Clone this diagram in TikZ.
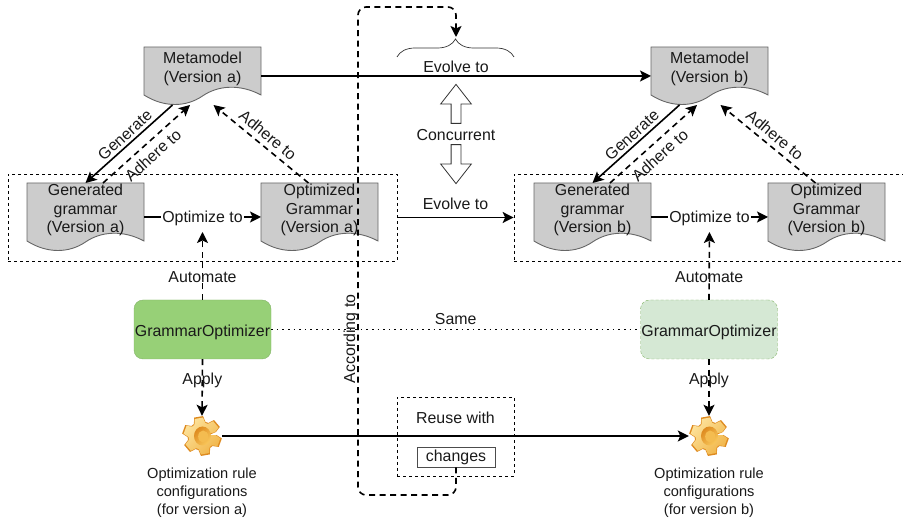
\documentclass[tikz,border=0pt]{standalone}
\usepackage{fontspec}
\setmainfont{Liberation Sans}
\usetikzlibrary{arrows.meta,backgrounds,decorations.pathreplacing,shapes.arrows}

\definecolor{docgray}{HTML}{CCCCCC}
\definecolor{docline}{HTML}{666666}
\definecolor{greenfill}{HTML}{97D077}
\definecolor{lightgreen}{HTML}{D5E8D4}
\definecolor{greenline}{HTML}{82B366}
\definecolor{gearside}{HTML}{DE8A1F}
\definecolor{gearface}{HTML}{F9C85C}
\definecolor{gearlight}{HTML}{FDE29A}

\tikzset{
  gearicon/.pic={
    \fill[gearside] (1.5,1.5) \foreach \a in {20,80,...,320}{
      -- (\a-24:14.5) -- (\a-13:20) -- (\a+13:20) -- (\a+24:14.5)} -- cycle;
    \shade[top color=gearlight,bottom color=gearface!70!gearside,shading angle=45] (-1,-1) \foreach \a in {20,80,...,320}{
      -- (\a-24:13.5) -- (\a-13:18.5) -- (\a+13:18.5) -- (\a+24:13.5)} -- cycle;
    \shade[top color=gearside,bottom color=gearface,shading angle=45] (0.5,0) ellipse (8.5 and 9.5);
    \fill[gearface!80!gearside] (1.2,0.5) ellipse (5 and 6);
  }
}

\begin{document}
\begin{tikzpicture}[
  x=1pt, y=-1pt,
  font=\fontsize{15.9}{18.5}\selectfont,
  every node/.style={text=black!90},
  doc/.style={align=center, text width=117pt, inner sep=0pt},
  docback/.style={draw=docline, fill=docgray, line width=0.9pt},
  groupbox/.style={draw, dash pattern=on 3pt off 3pt, line width=0.7pt, minimum width=389pt, minimum height=87pt},
  tool/.style={rounded corners=9pt, minimum width=137pt, minimum height=59pt, inner sep=0pt, text height=15pt, text depth=0pt},
  gearnode/.style={circle, minimum size=40pt, inner sep=0pt},
  flow/.style={line width=1.6pt, -{Stealth[length=11pt,width=11pt,inset=2.5pt]}},
  relation/.style={flow, dash pattern=on 6pt off 4.5pt},
  hollow/.style={draw=black!80, line width=0.8pt, single arrow, rotate=#1, minimum height=39pt,
    text height=9pt, text depth=0pt, text width=0pt, inner sep=0pt, single arrow head extend=10.5pt,
    single arrow tip angle=76},
  caption/.style={align=center, font=\fontsize{14.6}{18}\selectfont}
]
\useasboundingbox (0,0) rectangle (903,518);

% documents
\node[doc] (metaA) at (202.5,69) {Metamodel\\(Version a)};
\node[doc] (metaB) at (709.5,69) {Metamodel\\(Version b)};
\node[doc] (genA) at (85.5,210) {Generated\\grammar\\(Version a)};
\node[doc] (optA) at (319.5,210) {Optimized\\Grammar\\(Version a)};
\node[doc] (genB) at (592.5,210) {Generated\\grammar\\(Version b)};
\node[doc] (optB) at (826.5,210) {Optimized\\Grammar\\(Version b)};

\begin{scope}[on background layer]
\foreach \n/\t/\c in {metaA/22/26,metaB/22/26,genA/27/31,optA/27/31,genB/27/31,optB/27/31}{
  \draw[docback,shift={(\n.center)}] (-58.5,-\t) -- (58.5,-\t) -- (58.5,\c)
    .. controls (38,\c-11) and (16,\c-10) .. (0,\c+1)
    .. controls (-16,\c+12) and (-38,\c+13) .. (-58.5,\c) -- cycle;
}
\end{scope}

% groups
\node[groupbox] (groupA) at (202.5,217.5) {};
\node[groupbox] (groupB) at (708.5,217.5) {};

% tools
\node[tool,fill=greenfill,draw=greenline] (optimizerA) at (202.5,329.5) {GrammarOptimizer};
\node[tool,fill=lightgreen,draw=greenline,densely dashed] (optimizerB) at (709,329.5) {GrammarOptimizer};

% rule configurations
\node[gearnode] (gearA) at (202,436) {};
\node[gearnode] (gearB) at (709,436) {};
\pic at (gearA) {gearicon};
\pic at (gearB) {gearicon};
\node[caption] (rulesA) at (202,493) {Optimization rule\\configurations\\(for version a)};
\node[caption] (rulesB) at (709,493) {Optimization rule\\configurations\\(for version b)};

% reuse
\node[draw,dash pattern=on 3pt off 3pt,line width=0.7pt,minimum width=117pt,minimum height=79pt] (reuse) at (455.5,436.5) {};
\node (reuselabel) at (455.5,418) {Reuse with};
\node[draw=black!70,line width=0.9pt,minimum width=78pt,minimum height=20pt,inner sep=0pt] (changes) at (456,457) {changes};

% concurrent
\node (concurrent) at (456,135.5) {Concurrent};
\node[hollow=90] (concurrentup) at (456,107) {};
\node[hollow=-90] (concurrentdown) at (456,161) {};

% brace
\coordinate (braceL) at (397,57);
\coordinate (braceR) at (514,57);
\draw[black!80,line width=0.7pt,decorate,decoration={brace,amplitude=18pt}] (braceL) -- (braceR);
\coordinate (bracetip) at (456,37);

% evolution
\draw[flow] ([shift={(58.5,7)}]metaA.center) -- ([shift={(-58.5,7)}]metaB.center) node[midway,yshift=9pt] {Evolve to};
\draw[flow] (groupA.east) -- (groupB.west) node[midway,yshift=14pt] {Evolve to};

% generation
\path (genA.center) ++(58.5,7) coordinate (genAout);
\path (optA.center) ++(-58.5,7) coordinate (optAin);
\path (genB.center) ++(58.5,7) coordinate (genBout);
\path (optB.center) ++(-58.5,7) coordinate (optBin);
\draw[flow] (genAout) -- (optAin) node[midway,fill=white,inner xsep=1pt,inner ysep=0pt,yshift=-1pt] (optimizeA) {Optimize to};
\draw[flow] (genBout) -- (optBin) node[midway,fill=white,inner xsep=1pt,inner ysep=0pt,yshift=-1pt] (optimizeB) {Optimize to};

\foreach \m/\g/\o in {metaA/genA/optA,metaB/genB/optB}{
  \draw[flow] ([shift={(-30,36)}]\m.center) -- ([shift={(0,-27)}]\g.center)
    node[midway,rotate=42,xshift=3pt,yshift=9.4pt] {Generate};
  \draw[relation] ([shift={(17.5,-27)}]\g.center) -- ([shift={(-12.5,36)}]\m.center)
    node[midway,rotate=42,xshift=-2.5pt,yshift=-12.5pt] {Adhere to};
  \draw[relation] ([shift={(-11,-27)}]\o.center) -- ([shift={(11,36)}]\m.center)
    node[midway,rotate=-40,xshift=-0.4pt,yshift=11.4pt] {Adhere to};
}

% automation
\draw[relation] (optimizerA.north) -- (optimizeA.south |- 0,232) node[pos=0.34] {Automate};
\draw[relation] (optimizerB.north) -- (optimizeB.south |- 0,232) node[pos=0.34] {Automate};
\draw[relation] (optimizerA.south) -- (gearA.north) node[pos=0.35,yshift=-1pt] {Apply};
\draw[relation] (optimizerB.south) -- (gearB.north) node[pos=0.35,yshift=-1pt] {Apply};

% same
\draw[line width=1.6pt,dash pattern=on 1.6pt off 4pt] (optimizerA.east) -- (optimizerB.west)
  node[midway,yshift=10pt] {Same};

\draw[flow] (gearA.east) -- (gearB.west);

% according to
\draw[relation,rounded corners=8pt] (changes.south) -- (456,495) -- (358,495)
  -- (358,7) node[pos=0.32,rotate=90,yshift=7pt] {According to}
  -- (456,7) -- (bracetip);

\end{tikzpicture}
\end{document}
